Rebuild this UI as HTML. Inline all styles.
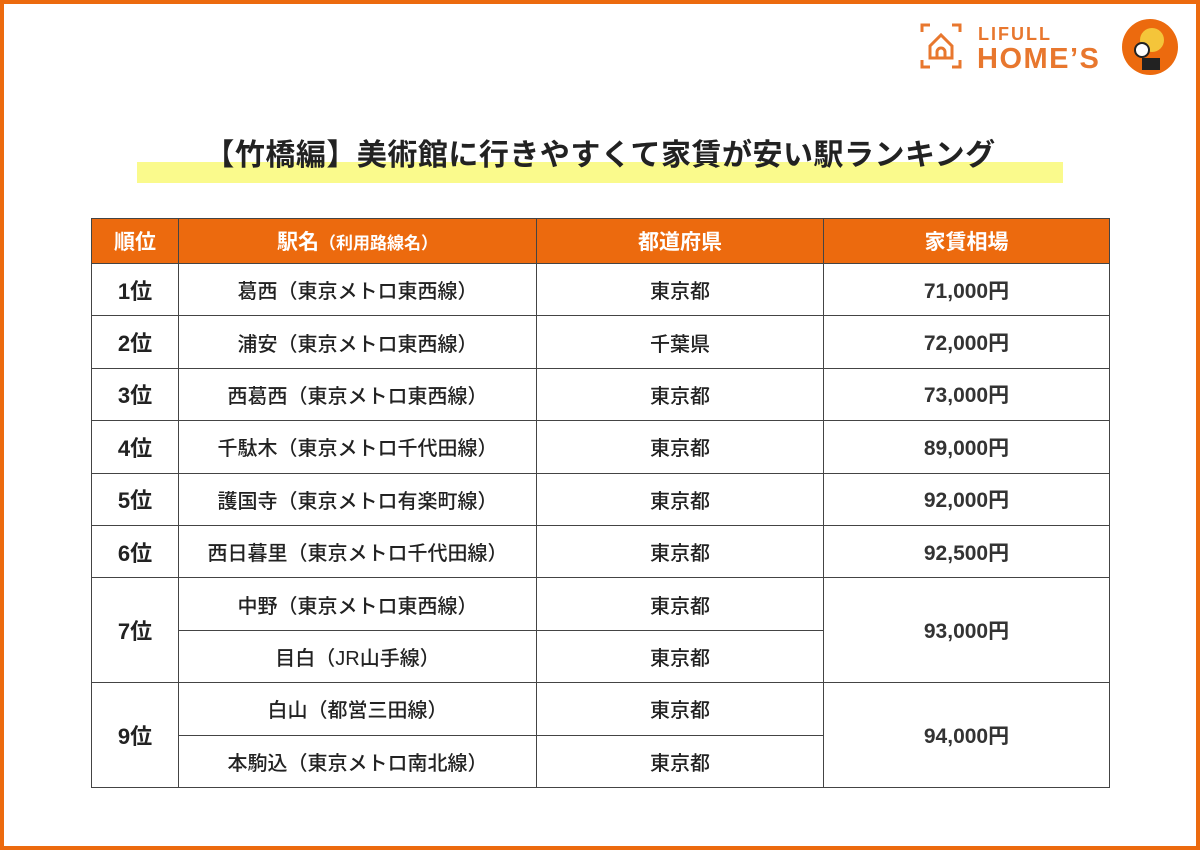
<!DOCTYPE html>
<html><head><meta charset="utf-8"><style>
html,body{margin:0;padding:0}
body{width:1200px;height:850px;position:relative;background:#fff;font-family:"Liberation Sans","Noto Sans CJK JP",sans-serif;overflow:hidden}
.frame{position:absolute;left:0;top:0;width:1192px;height:842px;border:4px solid #ec6a0e}
.hl{position:absolute;left:137px;top:162px;width:926px;height:21px;background:#fafa8c}
.title{position:absolute;left:0;width:1200px;top:134px;text-align:center;font-size:30px;font-weight:bold;color:#222;letter-spacing:0.5px;line-height:44px}
table{position:absolute;left:91px;top:218px;border-collapse:collapse;table-layout:fixed}
td,th{border:1.3px solid #444;text-align:center;padding:0;font-size:20px;color:#222}
th{background:#ec6a0e;color:#fff;font-weight:bold;height:44px;font-size:21px}
td{height:51.4px;font-weight:500}
td.r{font-weight:bold;font-size:22px}
td.p{font-size:21px;font-weight:bold;color:#333}
.logo{position:absolute;left:920px;top:16px}
</style></head><body>
<div class="frame"></div>
<div class="logo">
<svg width="270" height="64">
<g stroke="#e8772e" stroke-width="3" fill="none">
<path d="M2 16V9h8M32 9h8v7M2 44v7h8M32 51h8v-7"/>
<path d="M10 42V30l11-11 11 11v12zM17 42v-6a4 4 0 0 1 8 0v6"/>
</g>
<text x="58" y="24" font-family="Liberation Sans" font-weight="bold" font-size="18" fill="#e8772e" letter-spacing="2">LIFULL</text>
<text x="57" y="52" font-family="Liberation Sans" font-weight="bold" font-size="29" fill="#e8772e" letter-spacing="1.5">HOME’S</text>
<circle cx="230" cy="31" r="28" fill="#ec6a0e"/>
<circle cx="232" cy="24" r="12" fill="#f4c53a"/>
<circle cx="222" cy="34" r="7" fill="#fff" stroke="#222" stroke-width="2"/>
<rect x="222" y="42" width="18" height="12" fill="#222"/>
</svg>
</div>
<div class="hl"></div>
<div class="title">【竹橋編】美術館に行きやすくて家賃が安い駅ランキング</div>
<table>
<colgroup><col style="width:87px"><col style="width:358px"><col style="width:287px"><col style="width:286px"></colgroup>
<tr><th>順位</th><th>駅名<span style="font-size:17px">（利用路線名）</span></th><th>都道府県</th><th>家賃相場</th></tr>
<tr><td class="r">1位</td><td>葛西（東京メトロ東西線）</td><td>東京都</td><td class="p">71,000円</td></tr>
<tr><td class="r">2位</td><td>浦安（東京メトロ東西線）</td><td>千葉県</td><td class="p">72,000円</td></tr>
<tr><td class="r">3位</td><td>西葛西（東京メトロ東西線）</td><td>東京都</td><td class="p">73,000円</td></tr>
<tr><td class="r">4位</td><td>千駄木（東京メトロ千代田線）</td><td>東京都</td><td class="p">89,000円</td></tr>
<tr><td class="r">5位</td><td>護国寺（東京メトロ有楽町線）</td><td>東京都</td><td class="p">92,000円</td></tr>
<tr><td class="r">6位</td><td>西日暮里（東京メトロ千代田線）</td><td>東京都</td><td class="p">92,500円</td></tr>
<tr><td class="r" rowspan="2">7位</td><td>中野（東京メトロ東西線）</td><td>東京都</td><td class="p" rowspan="2">93,000円</td></tr>
<tr><td>目白（JR山手線）</td><td>東京都</td></tr>
<tr><td class="r" rowspan="2">9位</td><td>白山（都営三田線）</td><td>東京都</td><td class="p" rowspan="2">94,000円</td></tr>
<tr><td>本駒込（東京メトロ南北線）</td><td>東京都</td></tr>
</table>
</body></html>
